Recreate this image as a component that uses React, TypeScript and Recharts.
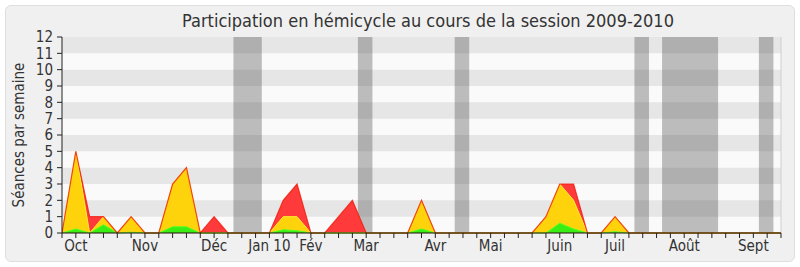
import React from 'react';
import { ComposedChart, Area, Line, XAxis, YAxis, ReferenceArea, ReferenceLine } from 'recharts';

const weeks = [0,1,2,3,4,5,6,7,8,9,10,11,12,13,14,15,16,17,18,19,20,21,22,23,24,25,26,27,28,29,30,31,32,33,34,35,36,37,38,39,40,41,42,43,44,45,46,47,48,49,50,51,52];
const total = [0,5,1,1,0,1,0,0,3,4,0,1,0,0,0,0,2,3,0,0,1,2,0,0,0,0,2,0,0,0,0,0,0,0,0,1,3,3,0,0,1,0,0,0,0,0,0,0,0,0,0,0,0];
const jaune = [0,5,0,1,0,1,0,0,3,4,0,0,0,0,0,0,1,1,0,0,0,0,0,0,0,0,2,0,0,0,0,0,0,0,0,1,3,2,0,0,1,0,0,0,0,0,0,0,0,0,0,0,0];
const vert = [0,0.25,0,0.5,0,0.05,0,0,0.38,0.38,0,0,0,0,0,0,0.2,0.14,0,0,0,0,0,0,0,0,0.25,0,0,0,0,0,0,0,0,0,0.6,0.25,0,0,0.08,0,0,0,0,0,0,0,0,0,0,0,0];

const monthWeeks = [1,6,11,15,18,22,27,31,36,40,45,50];
const monthLabels = ['Oct','Nov','Déc','Jan 10','Fév','Mar','Avr','Mai','Juin','Juil','Août','Sept'];
const yTicks = [0,1,2,3,4,5,6,7,8,9,10,11,12];
const darkStripes = [1,3,5,7,9,11];
const vacStart = [13,22,29,42,44,51];
const vacEnd = [14,22,29,42,47,51];

const data = weeks.map((w, i) => ({ week: w, total: total[i], jaune: jaune[i], vert: vert[i] }));

const FONT = "'DejaVu Sans Condensed', 'DejaVu Sans', sans-serif";

const fmt = (v: number) => {
  const k = monthWeeks.indexOf(v);
  return k >= 0 ? monthLabels[k] : '';
};

const YLabel = () => (
  <text x={19} y={135} transform="rotate(-90, 19, 135)" textAnchor="middle" dominantBaseline="central"
    fontSize={15} fill="#333" style={{ fontFamily: FONT, fontStretch: 'condensed' }}>
    Séances par semaine
  </text>
);

export default function App() {
  return (
    <div style={{ position: 'absolute', left: 0, top: 0, width: 800, height: 267, background: '#fff', fontFamily: FONT, fontStretch: 'condensed' }}>
      <div style={{ position: 'absolute', left: 5, top: 5, width: 790, height: 257, boxSizing: 'border-box', background: '#f0f0f0', border: '1px solid #dedede', borderRadius: 6 }} />
      <div style={{ position: 'absolute', left: 178, top: 11.5, width: 500, textAlign: 'center', fontSize: 18, lineHeight: '18px', color: '#333', whiteSpace: 'nowrap' }}>
        Participation en hémicycle au cours de la session 2009-2010
      </div>
      <div style={{ position: 'absolute', left: 0, top: 0 }}>
        <ComposedChart width={800} height={267} data={data} margin={{ top: 37, right: 19, bottom: 4, left: 0 }}>
          <ReferenceArea x1={0} x2={52} y1={0} y2={12} fill="#fafafa" fillOpacity={1} stroke="none" />
          {darkStripes.map((s) => (
            <ReferenceArea key={'s' + s} x1={0} x2={52} y1={s} y2={s + 1} fill="#e6e6e6" fillOpacity={1} stroke="none" />
          ))}
          {vacStart.map((s, i) => (
            <ReferenceArea key={'v' + i} x1={s - 0.6} x2={vacEnd[i] + 0.45} y1={0} y2={12} fill="#494949" fillOpacity={0.35} stroke="none" />
          ))}
          <ReferenceLine x={52} stroke="#cfcfcf" />
          <XAxis dataKey="week" type="number" domain={[0, 52]} ticks={weeks} interval={0} tickFormatter={fmt}
            height={30} tickSize={5} tickMargin={2} axisLine={{ stroke: '#2a0c0c' }} tickLine={{ stroke: '#222' }}
            tick={{ fontSize: 15, fill: '#333', fontFamily: FONT }} allowDataOverflow />
          <XAxis xAxisId="top" orientation="top" dataKey="week" type="number" domain={[0, 52]} ticks={weeks} interval={0}
            height={0} tickSize={1} tick={false} axisLine={false} tickLine={{ stroke: '#000' }} />
          <YAxis type="number" domain={[0, 12]} ticks={yTicks} interval={0} width={62} tickSize={5} tickMargin={4}
            axisLine={{ stroke: '#222' }} tickLine={{ stroke: '#222' }}
            tick={{ fontSize: 15, fill: '#333', fontFamily: FONT }} label={<YLabel />} />
          <Area type="linear" dataKey="total" fill="#ff3a3a" fillOpacity={1} stroke="none" isAnimationActive={false} dot={false} activeDot={false} />
          <Area type="linear" dataKey="jaune" fill="#ffd30c" fillOpacity={1} stroke="#ffee33" strokeWidth={1} isAnimationActive={false} dot={false} activeDot={false} />
          <Area type="linear" dataKey="vert" fill="#3aee14" fillOpacity={1} stroke="#55ff22" strokeWidth={1} isAnimationActive={false} dot={false} activeDot={false} />
          <Line type="linear" dataKey="total" stroke="#f01a0a" strokeOpacity={0.8} strokeWidth={1.2} dot={false} activeDot={false} isAnimationActive={false} />
        </ComposedChart>
      </div>
    </div>
  );
}
